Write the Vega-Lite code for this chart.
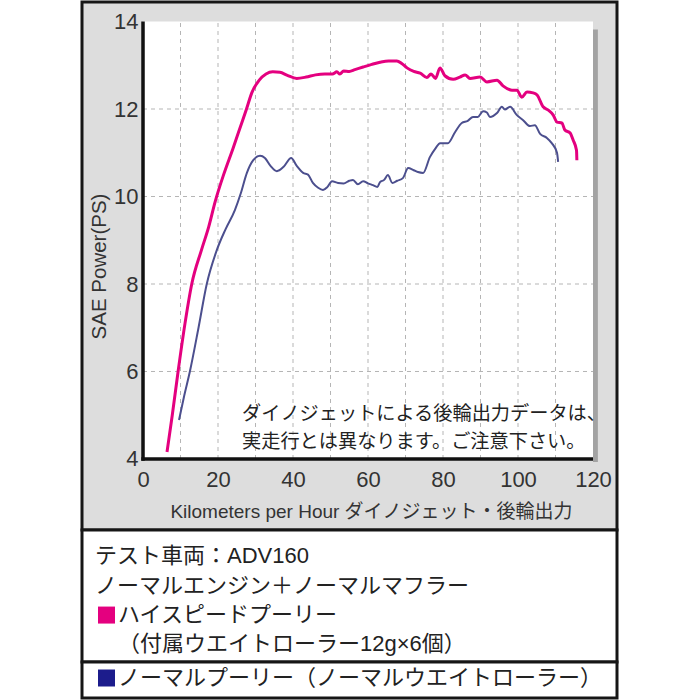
{
  "$schema": "https://vega.github.io/schema/vega-lite/v6.json",
  "background": "white",
  "padding": {"left": 80, "top": 0, "right": 0, "bottom": 0},
  "bounds": "flush",
  "spacing": 0,
  "resolve": {"scale": {"x": "independent", "y": "independent", "color": "independent"}},
  "config": {
    "font": "Liberation Sans, Noto Sans CJK JP",
    "text": {"font": "Liberation Sans, Noto Sans CJK JP"}
  },
  "datasets": {
    "one": [{}],
    "curves": [
      {"series": "ハイスピードプーリー", "kph": 6.4, "ps": 4.16},
      {"series": "ハイスピードプーリー", "kph": 7.8, "ps": 5.0},
      {"series": "ハイスピードプーリー", "kph": 9.4, "ps": 6.03},
      {"series": "ハイスピードプーリー", "kph": 11.2, "ps": 7.1},
      {"series": "ハイスピードプーリー", "kph": 13.0, "ps": 8.0},
      {"series": "ハイスピードプーリー", "kph": 15.6, "ps": 8.78},
      {"series": "ハイスピードプーリー", "kph": 17.5, "ps": 9.3},
      {"series": "ハイスピードプーリー", "kph": 19.3, "ps": 9.9},
      {"series": "ハイスピードプーリー", "kph": 21.5, "ps": 10.5},
      {"series": "ハイスピードプーリー", "kph": 24.0, "ps": 11.1},
      {"series": "ハイスピードプーリー", "kph": 26.0, "ps": 11.6},
      {"series": "ハイスピードプーリー", "kph": 27.6, "ps": 12.0},
      {"series": "ハイスピードプーリー", "kph": 29.0, "ps": 12.37},
      {"series": "ハイスピードプーリー", "kph": 31.0, "ps": 12.66},
      {"series": "ハイスピードプーリー", "kph": 32.8, "ps": 12.8},
      {"series": "ハイスピードプーリー", "kph": 34.6, "ps": 12.85},
      {"series": "ハイスピードプーリー", "kph": 36.5, "ps": 12.84},
      {"series": "ハイスピードプーリー", "kph": 38.5, "ps": 12.77},
      {"series": "ハイスピードプーリー", "kph": 41.0, "ps": 12.7},
      {"series": "ハイスピードプーリー", "kph": 43.5, "ps": 12.73},
      {"series": "ハイスピードプーリー", "kph": 46.0, "ps": 12.78},
      {"series": "ハイスピードプーリー", "kph": 48.5, "ps": 12.8},
      {"series": "ハイスピードプーリー", "kph": 50.5, "ps": 12.8},
      {"series": "ハイスピードプーリー", "kph": 51.7, "ps": 12.85},
      {"series": "ハイスピードプーリー", "kph": 52.5, "ps": 12.8},
      {"series": "ハイスピードプーリー", "kph": 53.5, "ps": 12.87},
      {"series": "ハイスピードプーリー", "kph": 55.0, "ps": 12.86},
      {"series": "ハイスピードプーリー", "kph": 56.5, "ps": 12.9},
      {"series": "ハイスピードプーリー", "kph": 58.7, "ps": 12.96},
      {"series": "ハイスピードプーリー", "kph": 61.0, "ps": 13.02},
      {"series": "ハイスピードプーリー", "kph": 63.2, "ps": 13.07},
      {"series": "ハイスピードプーリー", "kph": 65.5, "ps": 13.1},
      {"series": "ハイスピードプーリー", "kph": 67.7, "ps": 13.1},
      {"series": "ハイスピードプーリー", "kph": 69.0, "ps": 13.04},
      {"series": "ハイスピードプーリー", "kph": 70.4, "ps": 12.94},
      {"series": "ハイスピードプーリー", "kph": 72.2, "ps": 12.86},
      {"series": "ハイスピードプーリー", "kph": 73.9, "ps": 12.82},
      {"series": "ハイスピードプーリー", "kph": 75.7, "ps": 12.72},
      {"series": "ハイスピードプーリー", "kph": 76.8, "ps": 12.8},
      {"series": "ハイスピードプーリー", "kph": 78.0, "ps": 12.7},
      {"series": "ハイスピードプーリー", "kph": 79.2, "ps": 12.94},
      {"series": "ハイスピードプーリー", "kph": 80.5, "ps": 12.76},
      {"series": "ハイスピードプーリー", "kph": 82.7, "ps": 12.68},
      {"series": "ハイスピードプーリー", "kph": 84.5, "ps": 12.73},
      {"series": "ハイスピードプーリー", "kph": 85.9, "ps": 12.78},
      {"series": "ハイスピードプーリー", "kph": 87.2, "ps": 12.7},
      {"series": "ハイスピードプーリー", "kph": 89.9, "ps": 12.73},
      {"series": "ハイスピードプーリー", "kph": 91.7, "ps": 12.62},
      {"series": "ハイスピードプーリー", "kph": 94.4, "ps": 12.66},
      {"series": "ハイスピードプーリー", "kph": 96.0, "ps": 12.53},
      {"series": "ハイスピードプーリー", "kph": 98.4, "ps": 12.43},
      {"series": "ハイスピードプーリー", "kph": 99.7, "ps": 12.43},
      {"series": "ハイスピードプーリー", "kph": 101.0, "ps": 12.27},
      {"series": "ハイスピードプーリー", "kph": 102.4, "ps": 12.39},
      {"series": "ハイスピードプーリー", "kph": 104.0, "ps": 12.37},
      {"series": "ハイスピードプーリー", "kph": 105.1, "ps": 12.32},
      {"series": "ハイスピードプーリー", "kph": 106.7, "ps": 12.05},
      {"series": "ハイスピードプーリー", "kph": 108.0, "ps": 11.98},
      {"series": "ハイスピードプーリー", "kph": 109.4, "ps": 11.86},
      {"series": "ハイスピードプーリー", "kph": 110.4, "ps": 11.7},
      {"series": "ハイスピードプーリー", "kph": 111.7, "ps": 11.68},
      {"series": "ハイスピードプーリー", "kph": 112.5, "ps": 11.52},
      {"series": "ハイスピードプーリー", "kph": 113.9, "ps": 11.45},
      {"series": "ハイスピードプーリー", "kph": 114.7, "ps": 11.29},
      {"series": "ハイスピードプーリー", "kph": 115.6, "ps": 11.06},
      {"series": "ハイスピードプーリー", "kph": 115.7, "ps": 10.83},
      {"series": "ノーマルプーリー", "kph": 9.6, "ps": 4.89},
      {"series": "ノーマルプーリー", "kph": 11.0, "ps": 5.45},
      {"series": "ノーマルプーリー", "kph": 12.5, "ps": 6.0},
      {"series": "ノーマルプーリー", "kph": 14.8, "ps": 7.0},
      {"series": "ノーマルプーリー", "kph": 17.0, "ps": 8.0},
      {"series": "ノーマルプーリー", "kph": 19.7, "ps": 8.78},
      {"series": "ノーマルプーリー", "kph": 22.0, "ps": 9.25},
      {"series": "ノーマルプーリー", "kph": 24.5, "ps": 9.69},
      {"series": "ノーマルプーリー", "kph": 26.1, "ps": 10.08},
      {"series": "ノーマルプーリー", "kph": 27.7, "ps": 10.54},
      {"series": "ノーマルプーリー", "kph": 29.4, "ps": 10.83},
      {"series": "ノーマルプーリー", "kph": 31.2, "ps": 10.93},
      {"series": "ノーマルプーリー", "kph": 32.5, "ps": 10.88},
      {"series": "ノーマルプーリー", "kph": 34.0, "ps": 10.7},
      {"series": "ノーマルプーリー", "kph": 35.7, "ps": 10.58},
      {"series": "ノーマルプーリー", "kph": 37.5, "ps": 10.68},
      {"series": "ノーマルプーリー", "kph": 39.5, "ps": 10.88},
      {"series": "ノーマルプーリー", "kph": 41.0, "ps": 10.7},
      {"series": "ノーマルプーリー", "kph": 42.7, "ps": 10.54},
      {"series": "ノーマルプーリー", "kph": 44.0, "ps": 10.5},
      {"series": "ノーマルプーリー", "kph": 45.3, "ps": 10.31},
      {"series": "ノーマルプーリー", "kph": 46.7, "ps": 10.2},
      {"series": "ノーマルプーリー", "kph": 48.0, "ps": 10.15},
      {"series": "ノーマルプーリー", "kph": 49.2, "ps": 10.22},
      {"series": "ノーマルプーリー", "kph": 50.4, "ps": 10.35},
      {"series": "ノーマルプーリー", "kph": 52.0, "ps": 10.31},
      {"series": "ノーマルプーリー", "kph": 53.5, "ps": 10.3},
      {"series": "ノーマルプーリー", "kph": 55.0, "ps": 10.36},
      {"series": "ノーマルプーリー", "kph": 56.0, "ps": 10.38},
      {"series": "ノーマルプーリー", "kph": 57.3, "ps": 10.28},
      {"series": "ノーマルプーリー", "kph": 58.7, "ps": 10.35},
      {"series": "ノーマルプーリー", "kph": 60.0, "ps": 10.3},
      {"series": "ノーマルプーリー", "kph": 61.3, "ps": 10.26},
      {"series": "ノーマルプーリー", "kph": 62.5, "ps": 10.22},
      {"series": "ノーマルプーリー", "kph": 63.2, "ps": 10.33},
      {"series": "ノーマルプーリー", "kph": 64.3, "ps": 10.38},
      {"series": "ノーマルプーリー", "kph": 65.3, "ps": 10.49},
      {"series": "ノーマルプーリー", "kph": 66.5, "ps": 10.31},
      {"series": "ノーマルプーリー", "kph": 67.8, "ps": 10.36},
      {"series": "ノーマルプーリー", "kph": 69.3, "ps": 10.42},
      {"series": "ノーマルプーリー", "kph": 70.7, "ps": 10.65},
      {"series": "ノーマルプーリー", "kph": 72.2, "ps": 10.6},
      {"series": "ノーマルプーリー", "kph": 73.3, "ps": 10.56},
      {"series": "ノーマルプーリー", "kph": 74.7, "ps": 10.54},
      {"series": "ノーマルプーリー", "kph": 76.5, "ps": 10.9},
      {"series": "ノーマルプーリー", "kph": 78.0, "ps": 11.1},
      {"series": "ノーマルプーリー", "kph": 79.2, "ps": 11.22},
      {"series": "ノーマルプーリー", "kph": 81.3, "ps": 11.22},
      {"series": "ノーマルプーリー", "kph": 83.2, "ps": 11.47},
      {"series": "ノーマルプーリー", "kph": 85.0, "ps": 11.68},
      {"series": "ノーマルプーリー", "kph": 86.6, "ps": 11.73},
      {"series": "ノーマルプーリー", "kph": 88.0, "ps": 11.82},
      {"series": "ノーマルプーリー", "kph": 89.3, "ps": 11.82},
      {"series": "ノーマルプーリー", "kph": 90.7, "ps": 11.95},
      {"series": "ノーマルプーリー", "kph": 91.7, "ps": 11.92},
      {"series": "ノーマルプーリー", "kph": 92.5, "ps": 11.82},
      {"series": "ノーマルプーリー", "kph": 94.4, "ps": 11.91},
      {"series": "ノーマルプーリー", "kph": 95.7, "ps": 12.05},
      {"series": "ノーマルプーリー", "kph": 96.5, "ps": 11.99},
      {"series": "ノーマルプーリー", "kph": 97.9, "ps": 12.05},
      {"series": "ノーマルプーリー", "kph": 99.7, "ps": 11.86},
      {"series": "ノーマルプーリー", "kph": 101.3, "ps": 11.75},
      {"series": "ノーマルプーリー", "kph": 103.2, "ps": 11.61},
      {"series": "ノーマルプーリー", "kph": 104.5, "ps": 11.63},
      {"series": "ノーマルプーリー", "kph": 105.9, "ps": 11.43},
      {"series": "ノーマルプーリー", "kph": 107.7, "ps": 11.34},
      {"series": "ノーマルプーリー", "kph": 109.0, "ps": 11.22},
      {"series": "ノーマルプーリー", "kph": 110.4, "ps": 11.0},
      {"series": "ノーマルプーリー", "kph": 110.7, "ps": 10.79}
    ],
    "vgrid": [
      {"kph": 10}, {"kph": 20}, {"kph": 30}, {"kph": 40}, {"kph": 50}, {"kph": 60},
      {"kph": 70}, {"kph": 80}, {"kph": 90}, {"kph": 100}, {"kph": 110}
    ],
    "hgrid": [{"ps": 6}, {"ps": 8}, {"ps": 10}, {"ps": 12}],
    "legendTop": [
      {"row": 1, "kind": "caption", "label": "テスト車両：ADV160"},
      {"row": 2, "kind": "caption", "label": "ノーマルエンジン＋ノーマルマフラー"},
      {"row": 3, "kind": "swatch", "label": "■", "series": "ハイスピードプーリー"},
      {"row": 3, "kind": "entry", "label": "ハイスピードプーリー"},
      {"row": 4, "kind": "entry", "label": "（付属ウエイトローラー12g×6個）"}
    ],
    "legendBottom": [
      {"row": 1, "kind": "swatch", "label": "■", "series": "ノーマルプーリー"},
      {"row": 1, "kind": "entry", "label": "ノーマルプーリー（ノーマルウエイトローラー）"}
    ]
  },
  "vconcat": [
    {
      "width": 535,
      "height": 528,
      "view": {"fill": "#dddddd", "stroke": "#161616", "strokeWidth": 3},
      "layer": [
        {
          "data": {"name": "one"},
          "mark": {"type": "rect", "fill": "white"},
          "encoding": {
            "x": {"datum": 0, "type": "quantitative",
              "scale": {"domain": [-16.27, 126.4], "nice": false, "zero": false},
              "axis": {"values": [0, 20, 40, 60, 80, 100, 120], "offset": -71, "domain": false, "ticks": false, "grid": false, "zindex": 1,
                "labelFontSize": 22, "labelColor": "#333333", "labelPadding": 10, "labelFlush": false, "labelOverlap": false,
                "labelFont": "Liberation Sans",
                "title": "Kilometers per Hour ダイノジェット・後輪出力", "titleFontSize": 19, "titleFontWeight": "normal",
                "titleColor": "#333333", "titlePadding": 12, "titleX": 289, "titleFont": "Liberation Sans, Noto Sans CJK JP"}},
            "x2": {"datum": 120},
            "y": {"datum": 4, "type": "quantitative",
              "scale": {"domain": [2.377, 14.446], "nice": false, "zero": false},
              "axis": {"values": [4, 6, 8, 10, 12, 14], "offset": -61, "domain": false, "ticks": false, "grid": false, "zindex": 1,
                "labelFontSize": 22, "labelColor": "#333333", "labelPadding": 5, "labelOverlap": false, "labelFlush": false,
                "labelFont": "Liberation Sans",
                "title": "SAE Power(PS)", "titleFontSize": 20.5, "titleFontWeight": "normal",
                "titleColor": "#333333", "titlePadding": 4, "titleFont": "Liberation Sans"}},
            "y2": {"datum": 14}
          }
        },
        {
          "data": {"name": "one"},
          "mark": {"type": "rect", "fill": "#a3a3a3"},
          "encoding": {
            "x": {"datum": 120, "type": "quantitative", "scale": {"domain": [-16.27, 126.4], "nice": false, "zero": false}},
            "x2": {"datum": 121.3},
            "y": {"datum": 3.93, "type": "quantitative", "scale": {"domain": [2.377, 14.446], "nice": false, "zero": false}},
            "y2": {"datum": 13.82}
          }
        },
        {
          "data": {"name": "vgrid"},
          "mark": {"type": "rule", "color": "#b5b5b5", "strokeWidth": 1, "strokeDash": [4, 4]},
          "encoding": {
            "x": {"field": "kph", "type": "quantitative", "scale": {"domain": [-16.27, 126.4], "nice": false, "zero": false}},
            "y": {"datum": 4, "type": "quantitative", "scale": {"domain": [2.377, 14.446], "nice": false, "zero": false}},
            "y2": {"datum": 14}
          }
        },
        {
          "data": {"name": "hgrid"},
          "mark": {"type": "rule", "color": "#b5b5b5", "strokeWidth": 1, "strokeDash": [4, 4]},
          "encoding": {
            "y": {"field": "ps", "type": "quantitative", "scale": {"domain": [2.377, 14.446], "nice": false, "zero": false}},
            "x": {"datum": 0, "type": "quantitative", "scale": {"domain": [-16.27, 126.4], "nice": false, "zero": false}},
            "x2": {"datum": 120}
          }
        },
        {
          "data": {"name": "one"},
          "mark": {"type": "text", "align": "left", "baseline": "middle", "fontSize": 19.2, "lineHeight": 28, "color": "#222222", "font": "Noto Sans CJK JP"},
          "encoding": {
            "x": {"datum": 26.4, "type": "quantitative", "scale": {"domain": [-16.27, 126.4], "nice": false, "zero": false}},
            "y": {"datum": 5.03, "type": "quantitative", "scale": {"domain": [2.377, 14.446], "nice": false, "zero": false}},
            "text": {"value": ["ダイノジェットによる後輪出力データは、", "実走行とは異なります。ご注意下さい。"]}
          }
        },
        {
          "data": {"name": "curves"},
          "transform": [{"filter": "datum.series === 'ノーマルプーリー'"}],
          "mark": {"type": "line", "color": "#4c4f8e", "strokeWidth": 2, "interpolate": "monotone"},
          "encoding": {
            "x": {"field": "kph", "type": "quantitative", "scale": {"domain": [-16.27, 126.4], "nice": false, "zero": false}},
            "y": {"field": "ps", "type": "quantitative", "scale": {"domain": [2.377, 14.446], "nice": false, "zero": false}}
          }
        },
        {
          "data": {"name": "curves"},
          "transform": [{"filter": "datum.series === 'ハイスピードプーリー'"}],
          "mark": {"type": "line", "color": "#e4007f", "strokeWidth": 3, "interpolate": "monotone"},
          "encoding": {
            "x": {"field": "kph", "type": "quantitative", "scale": {"domain": [-16.27, 126.4], "nice": false, "zero": false}},
            "y": {"field": "ps", "type": "quantitative", "scale": {"domain": [2.377, 14.446], "nice": false, "zero": false}}
          }
        },
        {
          "data": {"name": "one"},
          "mark": {"type": "rule", "color": "#111111", "strokeWidth": 3.5},
          "encoding": {
            "x": {"datum": 0, "type": "quantitative", "scale": {"domain": [-16.27, 126.4], "nice": false, "zero": false}},
            "y": {"datum": 3.96, "type": "quantitative", "scale": {"domain": [2.377, 14.446], "nice": false, "zero": false}},
            "y2": {"datum": 14}
          }
        },
        {
          "data": {"name": "one"},
          "mark": {"type": "rule", "color": "#111111", "strokeWidth": 3.5},
          "encoding": {
            "y": {"datum": 4, "type": "quantitative", "scale": {"domain": [2.377, 14.446], "nice": false, "zero": false}},
            "x": {"datum": -0.45, "type": "quantitative", "scale": {"domain": [-16.27, 126.4], "nice": false, "zero": false}},
            "x2": {"datum": 120}
          }
        }
      ]
    },
    {
      "width": 535,
      "height": 132,
      "view": {"fill": "white", "stroke": "#161616", "strokeWidth": 3},
      "data": {"name": "legendTop"},
      "layer": [
        {
          "transform": [{"filter": "datum.kind !== 'swatch'"}],
          "mark": {"type": "text", "align": "left", "baseline": "middle", "fontSize": 22, "color": "#222222"},
          "encoding": {
            "x": {"field": "kind", "type": "nominal", "scale": {"type": "point", "domain": ["caption", "swatch", "entry"], "range": [13, 36], "padding": 0}, "axis": null},
            "y": {"field": "row", "type": "quantitative", "scale": {"domain": [0.1, 4.6], "reverse": true, "nice": false, "zero": false}, "axis": null},
            "text": {"field": "label"}
          }
        },
        {
          "transform": [{"filter": "datum.kind === 'swatch'"}],
          "mark": {"type": "square", "size": 289, "filled": true, "opacity": 1},
          "encoding": {
            "x": {"field": "kind", "type": "nominal", "scale": {"type": "point", "domain": ["caption", "swatch", "entry"], "range": [13, 36], "padding": 0}, "axis": null},
            "y": {"field": "row", "type": "quantitative", "scale": {"domain": [0.1, 4.6], "reverse": true, "nice": false, "zero": false}, "axis": null},
            "color": {"field": "series", "type": "nominal", "scale": {"domain": ["ハイスピードプーリー", "ノーマルプーリー"], "range": ["#e4007f", "#1c1c8c"]}, "legend": null}
          }
        }
      ]
    },
    {
      "width": 535,
      "height": 36,
      "view": {"fill": "white", "stroke": "#161616", "strokeWidth": 3},
      "data": {"name": "legendBottom"},
      "layer": [
        {
          "transform": [{"filter": "datum.kind !== 'swatch'"}],
          "mark": {"type": "text", "align": "left", "baseline": "middle", "fontSize": 22, "color": "#222222"},
          "encoding": {
            "x": {"field": "kind", "type": "nominal", "scale": {"type": "point", "domain": ["caption", "swatch", "entry"], "range": [13, 36], "padding": 0}, "axis": null},
            "y": {"field": "row", "type": "quantitative", "scale": {"domain": [0.5, 1.625], "reverse": true, "nice": false, "zero": false}, "axis": null},
            "text": {"field": "label"}
          }
        },
        {
          "transform": [{"filter": "datum.kind === 'swatch'"}],
          "mark": {"type": "square", "size": 289, "filled": true, "opacity": 1},
          "encoding": {
            "x": {"field": "kind", "type": "nominal", "scale": {"type": "point", "domain": ["caption", "swatch", "entry"], "range": [13, 36], "padding": 0}, "axis": null},
            "y": {"field": "row", "type": "quantitative", "scale": {"domain": [0.5, 1.625], "reverse": true, "nice": false, "zero": false}, "axis": null},
            "color": {"field": "series", "type": "nominal", "scale": {"domain": ["ハイスピードプーリー", "ノーマルプーリー"], "range": ["#e4007f", "#1c1c8c"]}, "legend": null}
          }
        }
      ]
    }
  ]
}
